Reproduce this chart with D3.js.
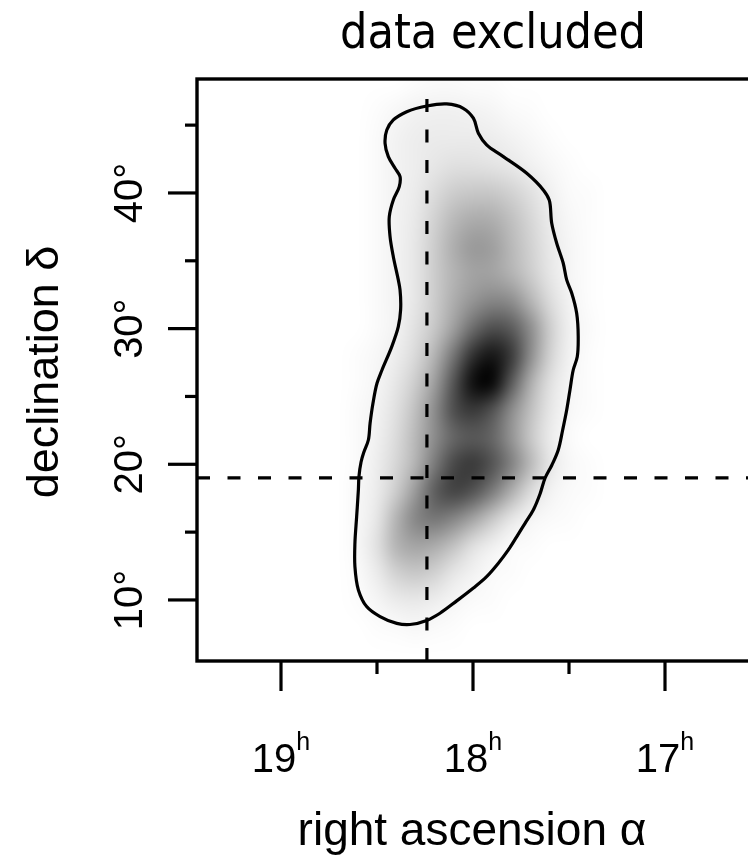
<!DOCTYPE html>
<html><head><meta charset="utf-8">
<script src="https://cdn.jsdelivr.net/npm/d3@7"></script>
<style>
html,body{margin:0;padding:0;background:#fff;}
#wrap{position:relative;width:748px;height:856px;overflow:hidden;background:#fff;}
#cv,#sv{position:absolute;left:0;top:0;}
</style></head><body>
<div id="wrap"><canvas id="cv" width="748" height="856"></canvas><svg id="sv" width="748" height="856"></svg></div>
<script>
// ---------------- data ----------------
const titleText = "data excluded";
const xLabelText = "right ascension α";
const yLabelText = "declination δ";

const raMajorTicks = [19, 18, 17];
const raMinorTicks = [18.5, 17.5];
const raTickLabels = ["19", "18", "17"];
const raTickSup = "h";

const decMajorTicks = [10, 20, 30, 40];
const decMinorTicks = [15, 25, 35, 45];
const decTickLabels = ["10°", "20°", "30°", "40°"];

const markerRA = 18.24;
const markerDec = 19.0;
const markerTopDec = 47.3;

const contourRA = [18.241,18.137,18.051,17.998,17.972,17.929,17.842,17.720,17.634,17.603,
  17.590,17.564,17.530,17.512,17.486,17.460,17.452,17.457,17.478,17.495,
  17.512,17.533,17.556,17.589,17.625,17.651,17.686,17.729,17.772,17.816,
  17.868,17.929,17.998,18.085,18.172,18.241,18.328,18.397,18.484,18.554,
  18.597,18.615,18.615,18.606,18.597,18.594,18.583,18.568,18.545,18.536,
  18.521,18.500,18.474,18.423,18.389,18.377,18.380,18.389,18.415,18.432,
  18.436,18.415,18.384,18.380,18.406,18.441,18.458,18.449,18.415,18.345];
const contourDec = [46.41,46.56,46.24,45.51,44.40,43.54,42.68,41.45,40.22,39.48,
  37.77,36.29,34.82,33.59,32.63,31.13,29.41,27.93,26.95,25.48,
  24.00,22.53,21.06,19.95,18.97,17.81,16.63,15.65,14.67,13.69,
  12.71,11.72,10.88,9.93,9.02,8.49,8.19,8.27,8.77,9.51,
  10.74,12.45,14.18,16.14,18.11,19.09,20.17,20.91,21.79,23.02,
  24.50,25.97,26.95,28.67,30.14,31.38,32.85,33.59,35.30,36.78,
  38.25,39.48,40.46,41.20,41.82,42.68,43.66,44.64,45.38,45.99];

// density grid: columns = RA cell centres, rows = Dec cell centres, values = darkness 0..1
const densityRA = [18.7,18.6,18.5,18.4,18.3,18.2,18.1,18.0,17.9,17.8,17.7,17.6,17.5,17.4,17.3];
const densityDec = [48,46,44,42,40,38,36,34,32,30,28,26,24,22,20,18,16,14,12,10,8,6];
const densityRows = [
  [0,0,0,0,0.01,0.02,0.02,0.01,0.01,0,0,0,0,0,0],
  [0,0,0.01,0.03,0.05,0.06,0.06,0.05,0.04,0.02,0.01,0,0,0,0],
  [0,0,0.02,0.05,0.07,0.08,0.08,0.08,0.07,0.05,0.03,0.01,0,0,0],
  [0,0,0.02,0.05,0.07,0.10,0.12,0.12,0.11,0.09,0.06,0.03,0.01,0,0],
  [0,0,0.02,0.05,0.08,0.14,0.20,0.22,0.22,0.18,0.12,0.06,0.02,0.01,0],
  [0,0,0.02,0.05,0.09,0.18,0.28,0.33,0.32,0.25,0.16,0.08,0.03,0.01,0],
  [0,0,0.02,0.05,0.10,0.20,0.32,0.40,0.38,0.28,0.18,0.09,0.04,0.01,0],
  [0,0,0.02,0.05,0.10,0.20,0.30,0.36,0.36,0.30,0.20,0.10,0.04,0.01,0],
  [0,0,0.02,0.05,0.10,0.20,0.32,0.42,0.48,0.45,0.30,0.14,0.05,0.01,0],
  [0,0,0.02,0.05,0.12,0.22,0.38,0.58,0.70,0.65,0.45,0.20,0.06,0.02,0],
  [0,0.01,0.03,0.07,0.15,0.30,0.55,0.82,0.92,0.78,0.45,0.18,0.05,0.01,0],
  [0,0.01,0.04,0.10,0.20,0.38,0.68,0.95,0.98,0.65,0.32,0.12,0.04,0.01,0],
  [0,0.02,0.05,0.12,0.25,0.45,0.70,0.78,0.68,0.45,0.25,0.10,0.03,0.01,0],
  [0,0.02,0.06,0.14,0.28,0.45,0.60,0.65,0.60,0.42,0.22,0.08,0.02,0,0],
  [0,0.02,0.07,0.16,0.30,0.52,0.72,0.78,0.68,0.50,0.28,0.10,0.03,0.01,0],
  [0,0.03,0.08,0.20,0.40,0.64,0.74,0.68,0.52,0.32,0.14,0.05,0.02,0.01,0],
  [0,0.03,0.10,0.30,0.48,0.54,0.48,0.36,0.22,0.10,0.04,0.02,0.01,0,0],
  [0,0.03,0.12,0.30,0.36,0.33,0.24,0.12,0.06,0.02,0.01,0,0,0,0],
  [0,0.02,0.08,0.18,0.22,0.18,0.10,0.05,0.02,0.01,0,0,0,0,0],
  [0,0.01,0.04,0.08,0.09,0.07,0.04,0.02,0.01,0,0,0,0,0,0],
  [0,0,0.01,0.02,0.03,0.02,0.01,0,0,0,0,0,0,0,0],
  [0,0,0,0,0,0,0,0,0,0,0,0,0,0,0]
];

// ---------------- layout ----------------
const P = {left:197, right:795, top:79, bottom:661};
const x = d3.scaleLinear().domain([19.4375, 16.3229]).range([P.left, P.right]);
const y = d3.scaleLinear().domain([5.5, 48.4]).range([P.bottom, P.top]);

// ---------------- density raster ----------------
(function(){
  const nx = densityRA.length, ny = densityDec.length;
  const small = document.createElement("canvas");
  small.width = nx; small.height = ny;
  const sctx = small.getContext("2d");
  const img = sctx.createImageData(nx, ny);
  densityRows.forEach((row, j) => row.forEach((v, i) => {
    const g = Math.round(255 * (1 - v));
    const k = (j * nx + i) * 4;
    img.data[k] = g; img.data[k+1] = g; img.data[k+2] = g; img.data[k+3] = 255;
  }));
  sctx.putImageData(img, 0, 0);
  const ctx = document.getElementById("cv").getContext("2d");
  ctx.fillStyle = "#fff"; ctx.fillRect(0,0,748,856);
  ctx.save();
  ctx.beginPath(); ctx.rect(P.left, P.top, P.right - P.left, P.bottom - P.top); ctx.clip();
  const dRA = densityRA[0] - densityRA[1], dDec = densityDec[0] - densityDec[1];
  const x0 = x(densityRA[0] + dRA/2), x1 = x(densityRA[nx-1] - dRA/2);
  const y0 = y(densityDec[0] + dDec/2), y1 = y(densityDec[ny-1] - dDec/2);
  ctx.imageSmoothingEnabled = true;
  ctx.imageSmoothingQuality = "high";
  ctx.drawImage(small, x0, y0, x1 - x0, y1 - y0);
  ctx.restore();
})();

// ---------------- svg ----------------
const svg = d3.select("#sv");
const clipId = "plotclip";
svg.append("defs").append("clipPath").attr("id", clipId)
  .append("rect").attr("x", P.left).attr("y", P.top).attr("width", P.right - P.left).attr("height", P.bottom - P.top);
const plot = svg.append("g").attr("clip-path", `url(#${clipId})`);

const LW = 3.2;
// contour
const contourPts = contourRA.map((r, i) => [r, contourDec[i]]);
plot.append("path")
  .attr("d", d3.line().x(d => x(d[0])).y(d => y(d[1])).curve(d3.curveCatmullRomClosed.alpha(0.5))(contourPts))
  .attr("fill", "none").attr("stroke", "#000").attr("stroke-width", LW).attr("stroke-linejoin", "round");

// dashed marker lines
plot.append("line")
  .attr("x1", x(markerRA)).attr("x2", x(markerRA))
  .attr("y1", y(5.5)).attr("y2", y(markerTopDec))
  .attr("stroke", "#000").attr("stroke-width", LW).attr("stroke-dasharray", "13,17.5");
plot.append("line")
  .attr("x1", x(19.4375)).attr("x2", x(16.3229))
  .attr("y1", y(markerDec)).attr("y2", y(markerDec))
  .attr("stroke", "#000").attr("stroke-width", LW).attr("stroke-dasharray", "13,17.5");

// frame
svg.append("rect").attr("x", P.left).attr("y", P.top)
  .attr("width", P.right - P.left).attr("height", P.bottom - P.top)
  .attr("fill", "none").attr("stroke", "#000").attr("stroke-width", 3.4);

// ticks
const g = svg.append("g").attr("stroke", "#000").attr("stroke-width", LW);
raMajorTicks.forEach(t => g.append("line").attr("x1", x(t)).attr("x2", x(t)).attr("y1", P.bottom).attr("y2", P.bottom + 30));
raMinorTicks.forEach(t => g.append("line").attr("x1", x(t)).attr("x2", x(t)).attr("y1", P.bottom).attr("y2", P.bottom + 13));
decMajorTicks.forEach(t => g.append("line").attr("y1", y(t)).attr("y2", y(t)).attr("x1", P.left).attr("x2", P.left - 29));
decMinorTicks.forEach(t => g.append("line").attr("y1", y(t)).attr("y2", y(t)).attr("x1", P.left).attr("x2", P.left - 12));

const font = "'Liberation Sans', Arial, Helvetica, sans-serif";
raMajorTicks.forEach((t, i) => {
  const tx = svg.append("text").attr("x", x(t)).attr("y", 772)
    .attr("text-anchor", "middle").attr("font-family", font).attr("font-size", 40).attr("fill", "#000");
  tx.append("tspan").text(raTickLabels[i]);
  tx.append("tspan").attr("dy", -22).attr("font-size", 25).text(raTickSup);
});
decMajorTicks.forEach((t, i) => {
  svg.append("text").attr("transform", `translate(142,${y(t)}) rotate(-90)`)
    .attr("text-anchor", "middle").attr("font-family", font).attr("font-size", 40).attr("fill", "#000")
    .text(decTickLabels[i]);
});

// axis labels
svg.append("text").attr("x", 472).attr("y", 845).attr("text-anchor", "middle")
  .attr("font-family", font).attr("font-size", 46).attr("fill", "#000").text(xLabelText);
svg.append("text").attr("transform", `translate(58,372) rotate(-90)`).attr("text-anchor", "middle")
  .attr("font-family", font).attr("font-size", 45).attr("fill", "#000").text(yLabelText);

// title
svg.append("text").attr("x", 493).attr("y", 48).attr("text-anchor", "middle")
  .attr("font-family", "'DejaVu Sans Condensed', 'DejaVu Sans', sans-serif")
  .style("font-stretch", "condensed")
  .attr("font-size", 48).attr("fill", "#000").text(titleText);
</script>
</body></html>
